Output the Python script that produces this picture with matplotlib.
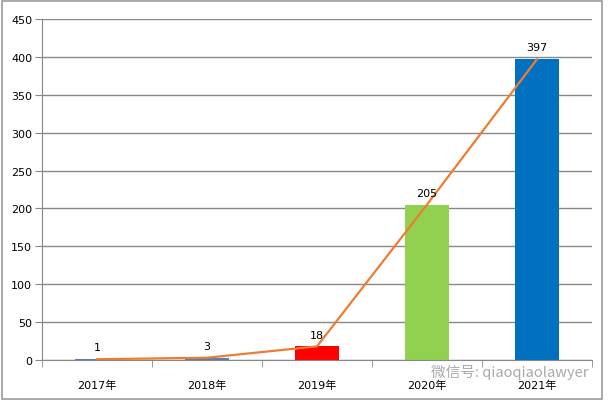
import matplotlib.pyplot as plt
from matplotlib.patches import Rectangle

plt.rcParams['font.family'] = ['DejaVu Sans', 'Noto Sans CJK SC']

# 数据
years = ['2017年', '2018年', '2019年', '2020年', '2021年']
counts = [1, 3, 18, 205, 397]
bar_colors = ['#4F81BD', '#4F81BD', '#FF0000', '#92D050', '#0070C0']

fig = plt.figure(figsize=(6.09, 4.02), dpi=100)
ax = fig.add_axes([0.069, 0.102, 0.903, 0.848])

x = list(range(len(years)))
ax.bar(x, counts, width=0.4, color=bar_colors, zorder=2)
ax.plot(x, counts, color='#ED7D31', linewidth=1.6, zorder=3)

# 数据标签
for xi, v in zip(x, counts):
    ax.text(xi, v + 9, str(v), ha='center', va='bottom', fontsize=8, color='black', zorder=4)

ax.set_xlim(-0.5, len(years) - 0.5)
ax.set_ylim(0, 450)
ax.set_yticks(range(0, 451, 50))
ax.grid(axis='y', color='#888888', linewidth=1, zorder=0)
ax.set_axisbelow(True)

# x轴刻度在类别边界
ax.set_xticks(x)
ax.set_xticklabels(years, fontsize=8)
ax.set_xticks([i - 0.5 for i in range(len(years) + 1)], minor=True)
ax.tick_params(axis='x', which='major', length=0, pad=14)
ax.tick_params(axis='x', which='minor', length=5, color='#888888', direction='out')
ax.tick_params(axis='y', length=5, color='#888888', labelsize=8, pad=2)

for side in ['top', 'right']:
    ax.spines[side].set_visible(False)
for side in ['left', 'bottom']:
    ax.spines[side].set_color('#888888')

# 水印
fig.text(0.707, 0.074, '微信号: qiaoqiaolawyer', fontsize=10.5, color='#9a9a9a',
         alpha=0.85, ha='left', va='center', family=['Noto Sans CJK SC', 'DejaVu Sans'])

# 外框
fig.patches.append(Rectangle((0.004, 0.005), 0.985, 0.99, transform=fig.transFigure,
                             fill=False, edgecolor='#999999', linewidth=1.2))

plt.savefig('out.png', dpi=100)
plt.close(fig)
